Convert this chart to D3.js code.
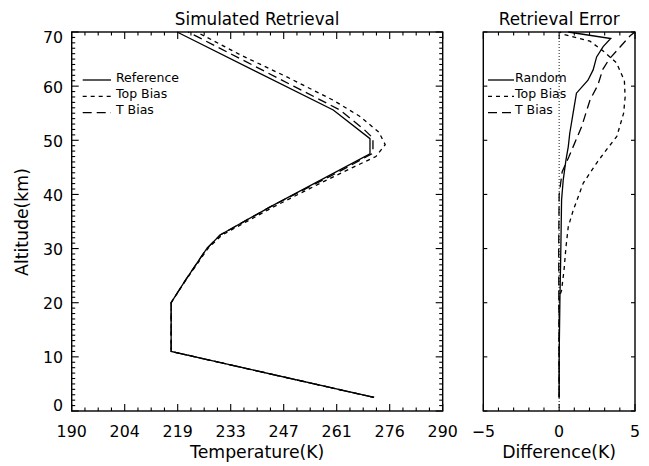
<!DOCTYPE html>
<html><head><meta charset="utf-8">
<script src="https://cdn.jsdelivr.net/npm/d3@7"></script>
<style>
body{margin:0;background:#fff}
text{font-family:"DejaVu Sans",sans-serif;fill:#000}
</style>
</head><body>
<svg id="c" width="649" height="466"></svg>
<script>
// ---------- data ----------
const refAlt   = [2.5, 11, 20, 24, 30, 32.5, 37.7, 47.5, 50.3, 55.6, 70];
const refTemp  = [271.5, 216.8, 216.8, 220.5, 226.4, 230, 243.5, 270.4, 270.4, 260.5, 218.4];

const topAlt   = [2.5, 11, 20, 24, 30, 32.5, 37.7, 42, 45, 47, 49.2, 51.5, 54.4, 57.4, 61.7, 65.8, 70];
const topTemp  = [271.5, 216.8, 216.8, 220.6, 226.7, 230.5, 244.4, 256.8, 265.8, 272, 274.5, 272.8, 267.7, 260.5, 248, 235.4, 223.7];

const tbAlt    = [2.5, 11, 20, 24, 30, 32.5, 37.7, 44, 47.6, 50.4, 52, 55.6, 60, 65, 70];
const tbTemp   = [271.5, 216.8, 216.8, 220.5, 226.4, 230, 243.5, 261.5, 271.2, 271.2, 268.8, 262.3, 249.8, 235.6, 221.4];

const randAlt  = [2.5, 10, 20.5, 28, 39, 42.7, 46.4, 48.8, 51.3, 55, 58.7, 61.1, 63, 65.4, 67.3, 68.8, 70];
const randDiff = [0, 0, 0.05, 0.1, 0.16, 0.27, 0.45, 0.6, 0.7, 0.92, 1.14, 1.9, 2.24, 2.47, 2.9, 3.4, 0.6];

const topBAlt  = [2.5, 21, 22.3, 26, 30.3, 34, 37.1, 42.1, 45.8, 48.2, 50.7, 55, 58, 61, 64.3, 66.5, 68.3, 69.6, 70];
const topBDiff = [0, 0, 0.16, 0.32, 0.45, 0.6, 0.93, 1.59, 2.47, 3.1, 3.8, 4.25, 4.35, 4.3, 3.78, 2.9, 2.03, 0.27, 0.05];

const tBAlt    = [2.5, 30, 40, 44.2, 47, 52.5, 57.4, 60.2, 63.1, 65, 66.5, 69.3, 70];
const tBDiff   = [0, -0.03, 0.0, 0.2, 0.65, 1.48, 2.03, 2.55, 2.88, 3.3, 3.78, 4.68, 5];

const tempTickLabels = ["190","204","219","233","247","261","276","290"];
const altTickLabels  = ["0","10","20","30","40","50","60","70"];
const diffTickLabels = ["\u22125","0","5"];

const leftLegend  = ["Reference","Top Bias","T Bias"];
const rightLegend = ["Random","Top Bias","T Bias"];
const dashes = [null, "4,4", "9,5"];

// ---------- layout ----------
const svg = d3.select("#c");
const yTop = 32, yBot = 411;
const L = {x0: 71.7, x1: 442.7}, R = {x0: 483.3, x1: 635};

const y = d3.scaleLinear().domain([0,70]).range([yBot, yTop]);
const xT = d3.scaleLinear().domain([190,290]).range([L.x0, L.x1]);
const xD = d3.scaleLinear().domain([-5,5]).range([R.x0, R.x1]);

function frame(x0, x1){
  svg.append("rect").attr("x",x0).attr("y",yTop).attr("width",x1-x0).attr("height",yBot-yTop)
    .attr("fill","none").attr("stroke","#000").attr("stroke-width",1.4);
}
function xTicks(scale, vals, len){
  vals.forEach(v=>{
    const X = scale(v);
    svg.append("line").attr("x1",X).attr("x2",X).attr("y1",yBot).attr("y2",yBot-len).attr("stroke","#000").attr("stroke-width",1.1);
    svg.append("line").attr("x1",X).attr("x2",X).attr("y1",yTop).attr("y2",yTop+len).attr("stroke","#000").attr("stroke-width",1.1);
  });
}
function yTicks(x0, x1, vals, len){
  vals.forEach(v=>{
    const Y = y(v);
    svg.append("line").attr("x1",x0).attr("x2",x0+len).attr("y1",Y).attr("y2",Y).attr("stroke","#000").attr("stroke-width",1.1);
    svg.append("line").attr("x1",x1).attr("x2",x1-len).attr("y1",Y).attr("y2",Y).attr("stroke","#000").attr("stroke-width",1.1);
  });
}

// ---- left panel ----
frame(L.x0, L.x1);
const tMajor = tempTickLabels.map((d,i)=>190 + i*100/7);
const tMinor = [];
for(let i=0;i<7;i++) for(let k=1;k<4;k++) tMinor.push(tMajor[i] + k*(100/7)/4);
xTicks(xT, tMajor, 7); xTicks(xT, tMinor, 3.5);
const aMajor = altTickLabels.map(Number);
const aMinor = d3.range(0,71).filter(v=>v%10!==0);
yTicks(L.x0, L.x1, aMajor, 7); yTicks(L.x0, L.x1, aMinor, 3.5);

tempTickLabels.forEach((t,i)=>{
  svg.append("text").attr("x",xT(tMajor[i])).attr("y",437).attr("text-anchor","middle")
    .attr("font-size",15.8).text(t);
});
altTickLabels.forEach((t,i)=>{
  const off = i===0 ? 0 : (i===altTickLabels.length-1 ? 11 : 6.5);
  svg.append("text").attr("x",63).attr("y",y(+t)+off).attr("text-anchor","end")
    .attr("font-size",15.8).text(t);
});

const lineT = (alts, vals) => d3.line().x((d,i)=>xT(vals[i])).y((d,i)=>y(alts[i]))(alts);
const lineD = (alts, vals) => d3.line().x((d,i)=>xD(vals[i])).y((d,i)=>y(alts[i]))(alts);

[[refAlt,refTemp],[topAlt,topTemp],[tbAlt,tbTemp]].forEach((s,i)=>{
  svg.append("path").attr("d",lineT(s[0],s[1])).attr("fill","none").attr("stroke","#000")
    .attr("stroke-width",1.3).attr("stroke-dasharray",dashes[i]);
});

// ---- right panel ----
frame(R.x0, R.x1);
const dMajor = [-5,0,5];
const dMinor = d3.range(-5,6).filter(v=>v%5!==0);
xTicks(xD, dMajor, 7); xTicks(xD, dMinor, 3.5);
yTicks(R.x0, R.x1, aMajor, 4);
diffTickLabels.forEach((t,i)=>{
  svg.append("text").attr("x",xD(dMajor[i])).attr("y",437).attr("text-anchor","middle")
    .attr("font-size",15.8).text(t);
});
svg.append("line").attr("x1",xD(0)).attr("x2",xD(0)).attr("y1",yTop).attr("y2",yBot)
  .attr("stroke","#000").attr("stroke-width",0.9).attr("stroke-dasharray","1,2");

[[randAlt,randDiff],[topBAlt,topBDiff],[tBAlt,tBDiff]].forEach((s,i)=>{
  svg.append("path").attr("d",lineD(s[0],s[1])).attr("fill","none").attr("stroke","#000")
    .attr("stroke-width",1.3).attr("stroke-dasharray",dashes[i]);
});

// ---- legends ----
function legend(x0, x1, tx, labels){
  labels.forEach((lab,i)=>{
    const Y = 80 + i*16.3;
    svg.append("line").attr("x1",x0).attr("x2",x1).attr("y1",Y).attr("y2",Y)
      .attr("stroke","#000").attr("stroke-width",1.3).attr("stroke-dasharray",dashes[i]);
    svg.append("text").attr("x",tx).attr("y",Y+1.5).attr("font-size",12.5).text(lab);
  });
}
legend(82.7, 111, 116, leftLegend);
legend(488, 514, 515, rightLegend);

// ---- titles ----
svg.append("text").attr("x",(L.x0+L.x1)/2).attr("y",25).attr("text-anchor","middle").attr("font-size",16.8).text("Simulated Retrieval");
svg.append("text").attr("x",(R.x0+R.x1)/2).attr("y",25).attr("text-anchor","middle").attr("font-size",16.8).text("Retrieval Error");
svg.append("text").attr("x",(L.x0+L.x1)/2).attr("y",458).attr("text-anchor","middle").attr("font-size",17.3).text("Temperature(K)");
svg.append("text").attr("x",(R.x0+R.x1)/2).attr("y",458).attr("text-anchor","middle").attr("font-size",17.3).text("Difference(K)");
svg.append("text").attr("transform","translate(28,222) rotate(-90)").attr("text-anchor","middle").attr("font-size",17.3).text("Altitude(km)");
</script>
</body></html>
